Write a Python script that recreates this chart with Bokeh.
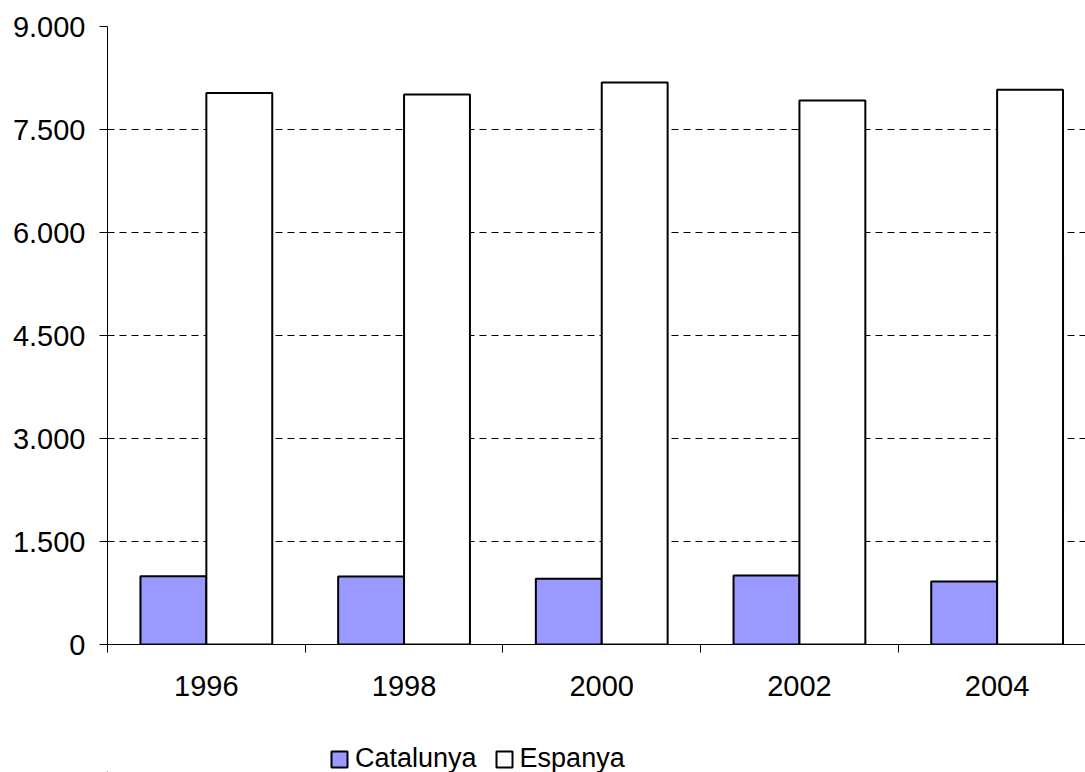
from bokeh.plotting import figure
from bokeh.layouts import column
from bokeh.models import (Range1d, FixedTicker, CustomJSTickFormatter, Legend, LegendItem,
                          ColumnDataSource)
from bokeh.embed import file_html
from bokeh.resources import INLINE

years = ["1996", "1998", "2000", "2002", "2004"]
catalunya = [995, 990, 956, 1005, 917]
espanya = [8030, 8010, 8184, 7922, 8078]
y_ticks = [0, 1500, 3000, 4500, 6000, 7500, 9000]
series_names = ["Catalunya", "Espanya"]
series_colors = ["#9999FF", "white"]

FONT = "Liberation Sans"
FS = "29px"
LFS = "27px"

idx = list(range(len(years)))
bar_w = 1 / 3
src = ColumnDataSource(dict(
    x_cat=[i + 0.5 - bar_w / 2 for i in idx],
    x_esp=[i + 0.5 + bar_w / 2 for i in idx],
    catalunya=catalunya,
    espanya=espanya,
))

p = figure(width=1085, height=716, output_backend="svg", toolbar_location=None,
           x_range=Range1d(0, 4.947), y_range=Range1d(0, 9000),
           min_border_left=107, min_border_top=26, min_border_right=0, min_border_bottom=72,
           frame_width=978, frame_height=618)
p.outline_line_color = None
p.background_fill_color = "white"
p.border_fill_color = "white"

p.vbar(x="x_cat", top="catalunya", width=bar_w, source=src,
       fill_color=series_colors[0], line_color="black", line_width=2)
p.vbar(x="x_esp", top="espanya", width=bar_w, source=src,
       fill_color=series_colors[1], line_color="black", line_width=2)

# x axis
p.xaxis.ticker = FixedTicker(ticks=[i + 0.5 for i in idx],
                             minor_ticks=list(range(len(years) + 1)))
p.xaxis.formatter = CustomJSTickFormatter(args=dict(years=years),
                                          code="return years[Math.floor(tick)];")
p.xaxis.major_tick_out = 0
p.xaxis.major_tick_in = 0
p.xaxis.minor_tick_out = 8
p.xaxis.minor_tick_in = 0
p.xaxis.minor_tick_line_color = "black"
p.xaxis.axis_line_color = "black"
p.xaxis.major_label_text_font = FONT
p.xaxis.major_label_text_font_size = FS
p.xaxis.major_label_text_color = "black"
p.xaxis.major_label_standoff = 23

# y axis
p.yaxis.ticker = FixedTicker(ticks=y_ticks)
p.yaxis.formatter = CustomJSTickFormatter(
    code="return Math.round(tick).toString().replace(/\\B(?=(\\d{3})+(?!\\d))/g, '.');")
p.yaxis.major_tick_out = 8
p.yaxis.major_tick_in = 0
p.yaxis.minor_tick_line_color = None
p.yaxis.axis_line_color = "black"
p.yaxis.major_tick_line_color = "black"
p.yaxis.major_label_text_font = FONT
p.yaxis.major_label_text_font_size = FS
p.yaxis.major_label_text_color = "black"
p.yaxis.major_label_standoff = 14

p.xgrid.grid_line_color = None
p.ygrid.ticker = FixedTicker(ticks=y_ticks)
p.ygrid.grid_line_color = "black"
p.ygrid.grid_line_dash = "7 5"
p.ygrid.grid_line_width = 1

# legend strip below the chart
lg = figure(width=1085, height=56, output_backend="svg", toolbar_location=None,
            x_axis_location=None, y_axis_location=None,
            x_range=Range1d(0, 1), y_range=Range1d(0, 1),
            min_border_left=0, min_border_right=0, min_border_top=0, min_border_bottom=0)
lg.outline_line_color = None
lg.grid.grid_line_color = None
items = []
for name, col in zip(series_names, series_colors):
    # one bar per series, far outside the visible range, so the swatch has visuals
    dummy = ColumnDataSource(dict(x=[-50], top=[-40], bottom=[-41]))
    r = lg.vbar(x="x", top="top", bottom="bottom", width=0.1, source=dummy,
                fill_color=col, line_color="black", line_width=2)
    items.append(LegendItem(label=name, renderers=[r]))

legend = Legend(items=items, orientation="horizontal", location=(222, -2),
                glyph_width=20, glyph_height=20, label_standoff=6, spacing=17,
                padding=0, margin=0, border_line_color=None,
                background_fill_alpha=0,
                label_text_font=FONT, label_text_font_size=LFS,
                label_text_color="black")
lg.add_layout(legend, "center")

layout = column(p, lg, spacing=0)
open("out.html", "w").write(file_html(layout, INLINE))
